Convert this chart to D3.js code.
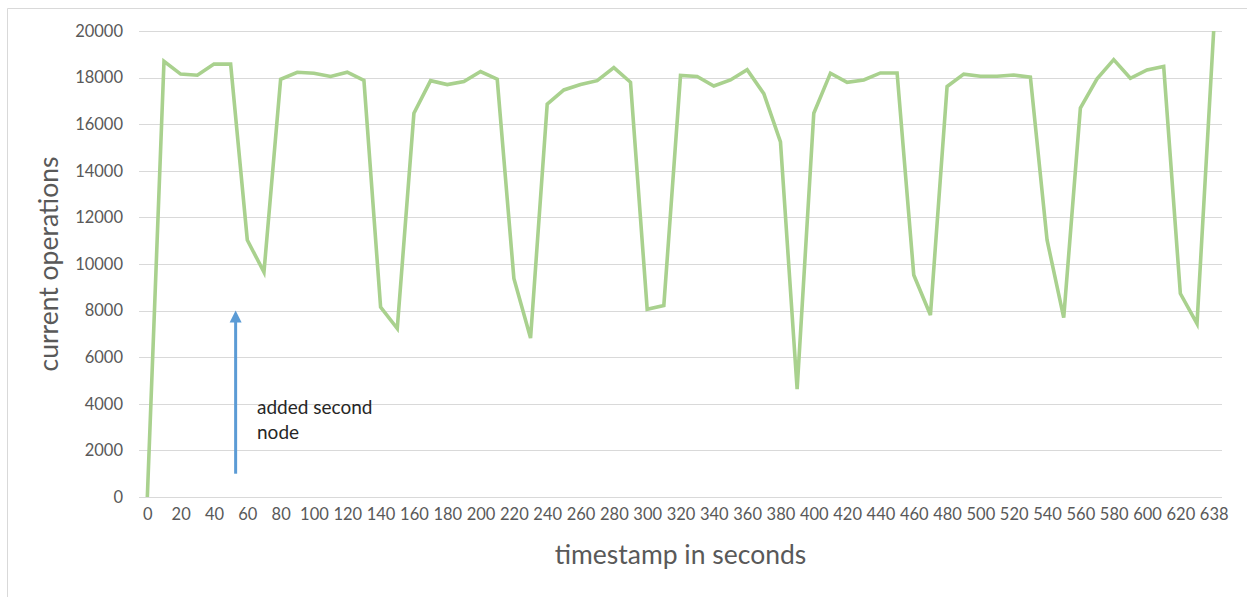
<!DOCTYPE html>
<html><head><meta charset="utf-8">
<script src="https://cdn.jsdelivr.net/npm/d3@7"></script>
<style>body{margin:0;background:#fff;}svg{display:block;}</style>
</head><body><svg id="c" width="1247" height="597"></svg>
<script>
const timestamps = [0,10,20,30,40,50,60,70,80,90,100,110,120,130,140,150,160,170,180,190,200,210,220,230,240,250,260,270,280,290,300,310,320,330,340,350,360,370,380,390,400,410,420,430,440,450,460,470,480,490,500,510,520,530,540,550,560,570,580,590,600,610,620,630,638];
const operations = [0,18700,18150,18100,18580,18580,11030,9650,17930,18230,18190,18050,18230,17880,8150,7230,16470,17870,17700,17830,18260,17930,9380,6820,16860,17470,17700,17870,18430,17800,8060,8220,18090,18050,17640,17900,18340,17310,15240,4630,16470,18190,17800,17900,18200,18200,9530,7810,17620,18150,18060,18060,18110,18020,11030,7700,16690,17950,18770,17970,18330,18480,8730,7440,20000];
const yTicks = [0,2000,4000,6000,8000,10000,12000,14000,16000,18000,20000];
const xLabels = timestamps.filter((d,i)=>i%2===0);
const yTitle = "current operations";
const xTitle = "timestamp in seconds";
const annotationLines = ["added second", "node"];
const annotationAt = 53; // seconds (arrow position along axis)

const svg = d3.select("#c");
const font = "Lato, 'Liberation Sans', sans-serif";
const L = 139, R = 1222, T = 31, B = 497;

// chart border (top and left)
svg.append("line").attr("x1",7.5).attr("x2",1247).attr("y1",8.5).attr("y2",8.5).attr("stroke","#d9d9d9");
svg.append("line").attr("x1",7.5).attr("x2",7.5).attr("y1",8.5).attr("y2",597).attr("stroke","#d9d9d9");

const x = d3.scalePoint().domain(timestamps).range([L,R]).padding(0.5);
const y = d3.scaleLinear().domain([0,20000]).range([B,T]);

// gridlines
svg.append("g").selectAll("line").data(yTicks).join("line")
  .attr("x1",L).attr("x2",R).attr("y1",d=>Math.round(y(d))+0.5).attr("y2",d=>Math.round(y(d))+0.5)
  .attr("stroke","#d9d9d9").attr("stroke-width",1);

// y axis
const ya = svg.append("g").attr("transform",`translate(${L-16},0)`)
  .call(d3.axisLeft(y).tickValues(yTicks).tickSize(0).tickPadding(0).tickFormat(d3.format("d")));
ya.select(".domain").remove();
ya.selectAll("text").attr("font-family",font).attr("font-size",16.5).attr("fill","#595959");

// x axis
const xa = svg.append("g").attr("transform",`translate(0,${B+8})`)
  .call(d3.axisBottom(x).tickValues(xLabels).tickSize(0).tickPadding(0));
xa.select(".domain").remove();
xa.selectAll("text").attr("font-family",font).attr("font-size",16.5).attr("fill","#595959").attr("dy","0.9em");

// titles
svg.append("text").attr("x",(L+R)/2).attr("y",564).attr("text-anchor","middle")
  .attr("font-family",font).attr("font-size",26.5).attr("fill","#595959").text(xTitle);
svg.append("text").attr("transform",`translate(58,264) rotate(-90)`).attr("text-anchor","middle")
  .attr("font-family",font).attr("font-size",26.5).attr("fill","#595959").text(yTitle);

// line
const line = d3.line().x((d,i)=>x(timestamps[i])).y(d=>y(d));
svg.append("path").datum(operations).attr("d",line).attr("fill","none")
  .attr("stroke","#a9d18e").attr("stroke-width",3.6).attr("stroke-linejoin","miter");

// annotation arrow
const ax = x(50) + (x(60)-x(50))*(annotationAt-50)/10;
const ay1 = y(1000), ay2 = y(8000);
svg.append("line").attr("x1",ax).attr("x2",ax).attr("y1",ay1).attr("y2",ay2+10)
  .attr("stroke","#5b9bd5").attr("stroke-width",3);
svg.append("path").attr("d",`M${ax},${ay2} L${ax-6},${ay2+12} L${ax+6},${ay2+12} Z`).attr("fill","#5b9bd5");
const at = svg.append("text").attr("font-family",font).attr("font-size",19).attr("fill","#262626");
annotationLines.forEach((t,i)=>at.append("tspan").attr("x",257).attr("y",414+i*25).text(t));
</script></body></html>
